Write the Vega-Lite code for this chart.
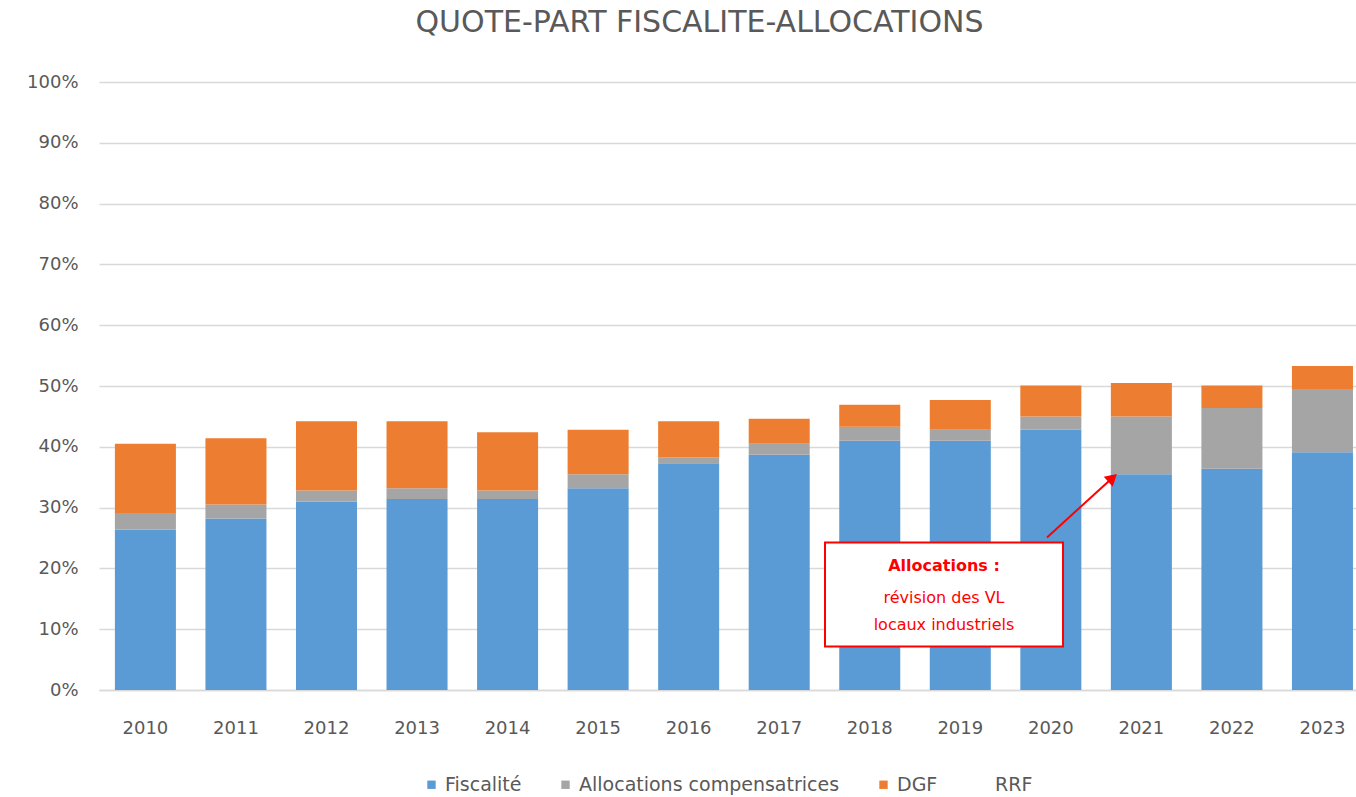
{
  "$schema": "https://vega.github.io/schema/vega-lite/v6.json",
  "width": 1257,
  "height": 608,
  "autosize": {"type": "none"},
  "padding": {"left": 99, "top": 82, "right": 0, "bottom": 107},
  "background": "white",
  "config": {
    "view": {"stroke": null},
    "font": "DejaVu Sans",
    "legend": {"layout": {"bottom": {"anchor": "middle"}}}
  },
  "title": {
    "text": "QUOTE-PART FISCALITE-ALLOCATIONS",
    "fontSize": 30,
    "fontWeight": "normal",
    "color": "#595959",
    "font": "DejaVu Sans",
    "anchor": "middle",
    "dx": -28,
    "offset": 35
  },
  "datasets": {
    "parts": [
      {"annee": "2010", "serie": "Fiscalité", "rang": 1, "valeur": 26.4},
      {"annee": "2010", "serie": "Allocations compensatrices", "rang": 2, "valeur": 2.7},
      {"annee": "2010", "serie": "DGF", "rang": 3, "valeur": 11.4},
      {"annee": "2010", "serie": "RRF", "rang": 4, "valeur": 0},
      {"annee": "2011", "serie": "Fiscalité", "rang": 1, "valeur": 28.2},
      {"annee": "2011", "serie": "Allocations compensatrices", "rang": 2, "valeur": 2.3},
      {"annee": "2011", "serie": "DGF", "rang": 3, "valeur": 10.9},
      {"annee": "2011", "serie": "RRF", "rang": 4, "valeur": 0},
      {"annee": "2012", "serie": "Fiscalité", "rang": 1, "valeur": 31.0},
      {"annee": "2012", "serie": "Allocations compensatrices", "rang": 2, "valeur": 1.8},
      {"annee": "2012", "serie": "DGF", "rang": 3, "valeur": 11.4},
      {"annee": "2012", "serie": "RRF", "rang": 4, "valeur": 0},
      {"annee": "2013", "serie": "Fiscalité", "rang": 1, "valeur": 31.4},
      {"annee": "2013", "serie": "Allocations compensatrices", "rang": 2, "valeur": 1.8},
      {"annee": "2013", "serie": "DGF", "rang": 3, "valeur": 11.0},
      {"annee": "2013", "serie": "RRF", "rang": 4, "valeur": 0},
      {"annee": "2014", "serie": "Fiscalité", "rang": 1, "valeur": 31.4},
      {"annee": "2014", "serie": "Allocations compensatrices", "rang": 2, "valeur": 1.4},
      {"annee": "2014", "serie": "DGF", "rang": 3, "valeur": 9.6},
      {"annee": "2014", "serie": "RRF", "rang": 4, "valeur": 0},
      {"annee": "2015", "serie": "Fiscalité", "rang": 1, "valeur": 33.2},
      {"annee": "2015", "serie": "Allocations compensatrices", "rang": 2, "valeur": 2.3},
      {"annee": "2015", "serie": "DGF", "rang": 3, "valeur": 7.3},
      {"annee": "2015", "serie": "RRF", "rang": 4, "valeur": 0},
      {"annee": "2016", "serie": "Fiscalité", "rang": 1, "valeur": 37.3},
      {"annee": "2016", "serie": "Allocations compensatrices", "rang": 2, "valeur": 1.0},
      {"annee": "2016", "serie": "DGF", "rang": 3, "valeur": 5.9},
      {"annee": "2016", "serie": "RRF", "rang": 4, "valeur": 0},
      {"annee": "2017", "serie": "Fiscalité", "rang": 1, "valeur": 38.7},
      {"annee": "2017", "serie": "Allocations compensatrices", "rang": 2, "valeur": 1.8},
      {"annee": "2017", "serie": "DGF", "rang": 3, "valeur": 4.1},
      {"annee": "2017", "serie": "RRF", "rang": 4, "valeur": 0},
      {"annee": "2018", "serie": "Fiscalité", "rang": 1, "valeur": 41.0},
      {"annee": "2018", "serie": "Allocations compensatrices", "rang": 2, "valeur": 2.3},
      {"annee": "2018", "serie": "DGF", "rang": 3, "valeur": 3.6},
      {"annee": "2018", "serie": "RRF", "rang": 4, "valeur": 0},
      {"annee": "2019", "serie": "Fiscalité", "rang": 1, "valeur": 41.0},
      {"annee": "2019", "serie": "Allocations compensatrices", "rang": 2, "valeur": 1.8},
      {"annee": "2019", "serie": "DGF", "rang": 3, "valeur": 4.9},
      {"annee": "2019", "serie": "RRF", "rang": 4, "valeur": 0},
      {"annee": "2020", "serie": "Fiscalité", "rang": 1, "valeur": 42.8},
      {"annee": "2020", "serie": "Allocations compensatrices", "rang": 2, "valeur": 2.2},
      {"annee": "2020", "serie": "DGF", "rang": 3, "valeur": 5.1},
      {"annee": "2020", "serie": "RRF", "rang": 4, "valeur": 0},
      {"annee": "2021", "serie": "Fiscalité", "rang": 1, "valeur": 35.5},
      {"annee": "2021", "serie": "Allocations compensatrices", "rang": 2, "valeur": 9.5},
      {"annee": "2021", "serie": "DGF", "rang": 3, "valeur": 5.5},
      {"annee": "2021", "serie": "RRF", "rang": 4, "valeur": 0},
      {"annee": "2022", "serie": "Fiscalité", "rang": 1, "valeur": 36.4},
      {"annee": "2022", "serie": "Allocations compensatrices", "rang": 2, "valeur": 10.0},
      {"annee": "2022", "serie": "DGF", "rang": 3, "valeur": 3.7},
      {"annee": "2022", "serie": "RRF", "rang": 4, "valeur": 0},
      {"annee": "2023", "serie": "Fiscalité", "rang": 1, "valeur": 39.1},
      {"annee": "2023", "serie": "Allocations compensatrices", "rang": 2, "valeur": 10.4},
      {"annee": "2023", "serie": "DGF", "rang": 3, "valeur": 3.8},
      {"annee": "2023", "serie": "RRF", "rang": 4, "valeur": 0}
    ],
    "cadre": [{"xa": 2017.504, "xb": 2020.133, "ya": 7.15, "yb": 24.24}],
    "fleche": [{"xa": 2019.956, "ya": 25.1, "xb": 2020.68, "yb": 34.9}],
    "pointe": [{"xa": 2020.68, "ya": 34.9}],
    "titreNote": [{"xa": 2018.818, "ya": 20.46, "texte": "Allocations :"}],
    "lignesNote": [
      {"xa": 2018.818, "ya": 15.2, "texte": "révision des VL"},
      {"xa": 2018.818, "ya": 10.76, "texte": "locaux industriels"}
    ]
  },
  "layer": [
    {
      "data": {"name": "parts"},
      "mark": {"type": "bar"},
      "encoding": {
        "x": {
          "field": "annee",
          "type": "nominal",
          "scale": {"paddingInner": 0.326, "paddingOuter": 0.1045, "align": 0.84},
          "axis": {
            "title": null,
            "labelAngle": 0,
            "labelFontSize": 18,
            "labelColor": "#595959",
            "labelFont": "DejaVu Sans",
            "ticks": false,
            "labelPadding": 29,
            "domainColor": "#d9d9d9",
            "domainWidth": 1.5
          }
        },
        "y": {
          "field": "valeur",
          "type": "quantitative",
          "stack": "zero",
          "scale": {"domain": [0, 100], "nice": false},
          "axis": {
            "title": null,
            "values": [0, 10, 20, 30, 40, 50, 60, 70, 80, 90, 100],
            "labelExpr": "datum.value + '%'",
            "labelFontSize": 18,
            "labelColor": "#595959",
            "labelFont": "DejaVu Sans",
            "labelPadding": 21,
            "ticks": false,
            "domain": false,
            "gridColor": "#d9d9d9",
            "gridWidth": 1.5
          }
        },
        "color": {
          "field": "serie",
          "type": "nominal",
          "scale": {
            "domain": ["Fiscalité", "Allocations compensatrices", "DGF", "RRF"],
            "range": ["#5B9BD5", "#A5A5A5", "#ED7D31", "#FFFFFF"]
          },
          "legend": {
            "title": null,
            "orient": "bottom",
            "direction": "horizontal",
            "symbolType": "square",
            "symbolSize": 70,
            "symbolStrokeWidth": 0,
            "labelFontSize": 19,
            "labelLimit": 0,
            "labelColor": "#595959",
            "labelFont": "DejaVu Sans",
            "columnPadding": 34,
            "offset": 38
          }
        },
        "order": {"field": "rang", "type": "quantitative"}
      }
    },
    {
      "layer": [
        {
          "data": {"name": "cadre"},
          "mark": {"type": "rect", "fill": "#FFFFFF", "stroke": "#FF0000", "strokeWidth": 2},
          "encoding": {
            "x": {"field": "xa", "type": "quantitative", "scale": {"domain": [2009.485, 2023.369], "nice": false, "zero": false}, "axis": null},
            "x2": {"field": "xb"},
            "y": {"field": "ya", "type": "quantitative", "scale": {"domain": [0, 100], "nice": false}, "axis": null},
            "y2": {"field": "yb"}
          }
        },
        {
          "data": {"name": "fleche"},
          "mark": {"type": "rule", "stroke": "#FF0000", "strokeWidth": 2},
          "encoding": {
            "x": {"field": "xa", "type": "quantitative", "scale": {"domain": [2009.485, 2023.369], "nice": false, "zero": false}, "axis": null},
            "x2": {"field": "xb"},
            "y": {"field": "ya", "type": "quantitative", "scale": {"domain": [0, 100], "nice": false}, "axis": null},
            "y2": {"field": "yb"}
          }
        },
        {
          "data": {"name": "pointe"},
          "mark": {"type": "point", "shape": "triangle-up", "filled": true, "fill": "#FF0000", "stroke": null, "size": 180, "angle": 48, "opacity": 1},
          "encoding": {
            "x": {"field": "xa", "type": "quantitative", "scale": {"domain": [2009.485, 2023.369], "nice": false, "zero": false}, "axis": null},
            "y": {"field": "ya", "type": "quantitative", "scale": {"domain": [0, 100], "nice": false}, "axis": null}
          }
        },
        {
          "data": {"name": "titreNote"},
          "mark": {"type": "text", "color": "#FF0000", "font": "DejaVu Sans", "fontSize": 16, "fontWeight": "bold", "align": "center", "baseline": "middle"},
          "encoding": {
            "x": {"field": "xa", "type": "quantitative", "scale": {"domain": [2009.485, 2023.369], "nice": false, "zero": false}, "axis": null},
            "y": {"field": "ya", "type": "quantitative", "scale": {"domain": [0, 100], "nice": false}, "axis": null},
            "text": {"field": "texte"}
          }
        },
        {
          "data": {"name": "lignesNote"},
          "mark": {"type": "text", "color": "#FF0000", "font": "DejaVu Sans", "fontSize": 16, "align": "center", "baseline": "middle"},
          "encoding": {
            "x": {"field": "xa", "type": "quantitative", "scale": {"domain": [2009.485, 2023.369], "nice": false, "zero": false}, "axis": null},
            "y": {"field": "ya", "type": "quantitative", "scale": {"domain": [0, 100], "nice": false}, "axis": null},
            "text": {"field": "texte"}
          }
        }
      ]
    }
  ],
  "resolve": {
    "scale": {"x": "independent", "y": "independent"},
    "axis": {"x": "independent", "y": "independent"}
  }
}
